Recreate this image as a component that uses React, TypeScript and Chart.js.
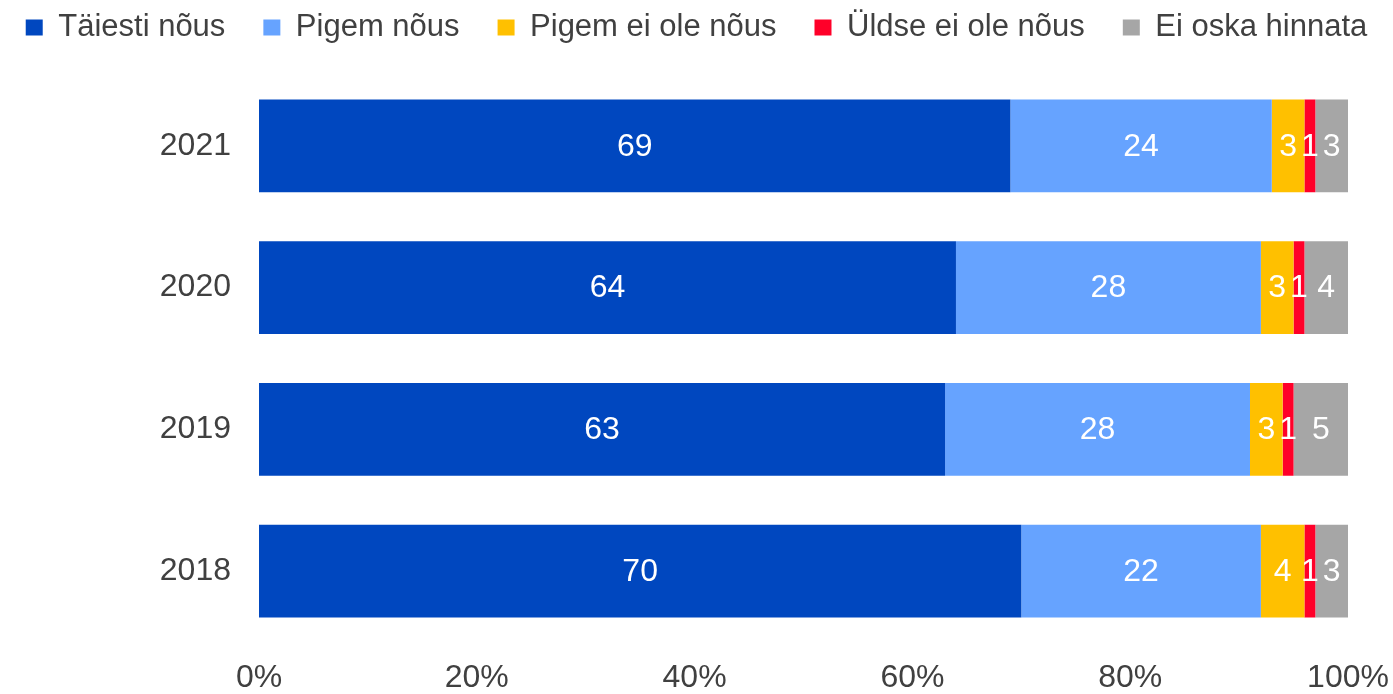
import React, { useEffect, useRef } from "react";
import { Chart, registerables } from "chart.js";

Chart.register(...registerables);

const categories = ["2021", "2020", "2019", "2018"];
const seriesNames = ["Täiesti nõus", "Pigem nõus", "Pigem ei ole nõus", "Üldse ei ole nõus", "Ei oska hinnata"];
const taiestiNous = [69, 64, 63, 70];
const pigemNous = [24, 28, 28, 22];
const pigemEiOleNous = [3, 3, 3, 4];
const uldseEiOleNous = [1, 1, 1, 1];
const eiOskaHinnata = [3, 4, 5, 3];
const xTicks = [0, 20, 40, 60, 80, 100];

const colors = ["#0047BF", "#66A3FF", "#FFC000", "#FF0029", "#A6A6A6"];
const FONT = "'Liberation Sans', Arial, sans-serif";
const TEXT = "#404040";

const dataLabels = {
  id: "dataLabels",
  afterDatasetsDraw(chart: any) {
    const ctx = chart.ctx;
    ctx.save();
    ctx.fillStyle = "#FFFFFF";
    ctx.font = `32px ${FONT}`;
    ctx.textAlign = "center";
    ctx.textBaseline = "middle";
    chart.data.datasets.forEach((ds: any, di: number) => {
      const meta = chart.getDatasetMeta(di);
      meta.data.forEach((el: any, i: number) => {
        const p = el.getCenterPoint();
        ctx.fillText(String(ds.data[i]), p.x, p.y + 1);
      });
    });
    ctx.restore();
  },
};

// Keeps the legend on one row and fixes the legend block height.
const legendFix = {
  id: "legendFix",
  beforeLayout(chart: any) {
    const lg = chart.legend;
    if (lg && !lg.__patched) {
      const origFit = lg.fit.bind(lg);
      const origDraw = lg.draw.bind(lg);
      lg.fit = function () {
        const mw = this.maxWidth;
        this.maxWidth = mw + 200;
        origFit();
        this.maxWidth = mw;
        this.width = mw;
        this.height = 101;
      };
      lg.draw = function () {
        const l = this.left;
        const r = this.right;
        this.left = l - 100;
        this.right = r + 100;
        origDraw();
        this.left = l;
        this.right = r;
      };
      lg.__patched = true;
    }
  },
};

export default function App() {
  const ref = useRef<HTMLCanvasElement>(null);
  useEffect(() => {
    const series = [taiestiNous, pigemNous, pigemEiOleNous, uldseEiOleNous, eiOskaHinnata];
    const chart = new Chart(ref.current!, {
      type: "bar",
      data: {
        labels: categories,
        datasets: series.map((d, i) => ({
          label: seriesNames[i],
          data: d,
          backgroundColor: colors[i],
          borderWidth: 0,
          categoryPercentage: 1,
          barPercentage: 0.656,
        })),
      },
      options: {
        indexAxis: "y",
        animation: false,
        responsive: true,
        maintainAspectRatio: false,
        layout: { padding: { top: -26, bottom: 0, left: 0, right: 0 } },
        plugins: {
          tooltip: { enabled: false },
          legend: {
            position: "top",
            labels: {
              boxWidth: 17,
              boxHeight: 16,
              padding: 38,
              color: TEXT,
              font: { family: FONT, size: 31 },
            },
          },
        },
        scales: {
          x: {
            stacked: true,
            min: 0,
            max: 100,
            afterBuildTicks(scale: any) {
              scale.ticks = xTicks.map((v) => ({ value: v }));
            },
            afterFit(scale: any) {
              scale.height = 52;
              scale.paddingRight = 45;
              scale.paddingLeft = 0;
            },
            grid: { display: false, drawTicks: false },
            border: { display: false },
            ticks: {
              padding: 20,
              color: TEXT,
              font: { family: FONT, size: 32, lineHeight: 1 },
              callback: (v: any) => `${v}%`,
              maxRotation: 0,
            },
          },
          y: {
            stacked: true,
            grid: { display: false, drawTicks: false },
            border: { display: false },
            afterFit(scale: any) {
              scale.width = 259;
              scale.paddingTop = 0;
              scale.paddingBottom = 0;
            },
            ticks: {
              padding: 28,
              color: TEXT,
              font: { family: FONT, size: 32 },
            },
          },
        },
      },
      plugins: [legendFix, dataLabels],
    });
    return () => chart.destroy();
  }, []);
  return (
    <div style={{ position: "fixed", left: 0, top: 0, width: 1393, height: 694, background: "#fff" }}>
      <canvas ref={ref} />
    </div>
  );
}
